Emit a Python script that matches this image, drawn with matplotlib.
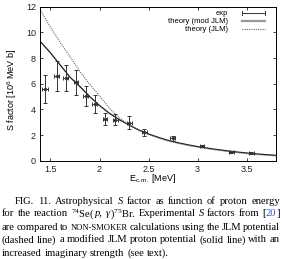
import numpy as np
import matplotlib
matplotlib.use('Agg')
import matplotlib.pyplot as plt

plt.rcParams['font.family'] = ['Liberation Sans', 'DejaVu Sans']
plt.rcParams['mathtext.fontset'] = 'custom'
plt.rcParams['mathtext.rm'] = 'Liberation Serif'
plt.rcParams['mathtext.it'] = 'Liberation Serif:italic'

# experimental points
e_exp = [1.444, 1.563, 1.655, 1.760, 1.860, 1.951, 2.056, 2.161, 2.304, 2.457, 2.747, 3.045, 3.342, 3.546]
e_err = [0.03, 0.025, 0.025, 0.025, 0.025, 0.025, 0.025, 0.025, 0.025, 0.025, 0.025, 0.025, 0.025, 0.025]
s_exp = [5.6, 6.6, 6.45, 6.1, 5.05, 4.45, 3.25, 3.2, 2.95, 2.2, 1.75, 1.15, 0.65, 0.6]
s_err = [1.1, 1.2, 1.0, 1.0, 0.8, 0.7, 0.45, 0.45, 0.5, 0.25, 0.18, 0.1, 0.05, 0.05]

# theory curves
e_th = [1.4, 1.5, 1.6, 1.7, 1.8, 1.9, 2.0, 2.1, 2.2, 2.3, 2.4, 2.5, 2.6,
        2.7, 2.8, 2.9, 3.0, 3.1, 3.2, 3.3, 3.4, 3.5, 3.6, 3.7, 3.8]
s_mod = [9.25, 8.4, 7.45, 6.5, 5.78, 5.0, 4.3, 3.7, 3.2, 2.78, 2.4, 2.08, 1.82,
         1.58, 1.4, 1.24, 1.1, 0.98, 0.87, 0.77, 0.68, 0.6, 0.53, 0.47, 0.42]
s_jlm = [11.7, 10.4, 9.2, 8.1, 6.95, 5.95, 5.05, 4.1, 3.35, 2.8, 2.38, 2.04, 1.77,
         1.53, 1.35, 1.19, 1.05, 0.93, 0.82, 0.72, 0.63, 0.55, 0.48, 0.42, 0.37]

xticks = [1.5, 2, 2.5, 3, 3.5]
xtick_labels = ['1.5', '2', '2.5', '3', '3.5']
yticks = [0, 2, 4, 6, 8, 10, 12]

W, H = 282, 259
fig = plt.figure(figsize=(W / 100, H / 100), dpi=100)
ax = fig.add_axes([40 / W, 1 - 160.7 / H, 236 / W, 154 / H])

ax.plot(e_th, s_mod, color='#1a1a1a', lw=0.9)
ax.plot(e_th, s_jlm, color='#666666', lw=0.8, ls=(0, (1, 1)))
ax.errorbar(e_exp, s_exp, yerr=s_err, xerr=e_err, fmt='s', ms=1.2, color='#333333',
            ecolor='#333333', elinewidth=0.7, capsize=1.6, capthick=0.7)

ax.set_xlim(1.393, 3.8)
ax.set_ylim(0, 12)
ax.set_xticks(xticks)
ax.set_xticklabels(xtick_labels)
ax.set_yticks(yticks)
ax.tick_params(direction='in', length=2.5, width=0.6, top=True, right=True,
               labelsize=6.5, colors='#222222', pad=3)
for sp in ax.spines.values():
    sp.set_linewidth(0.7)

ax.set_xlabel(r'E$_{\mathregular{c.m.}}$ [MeV]', fontsize=6.5, va='center')
ax.xaxis.set_label_coords(0.479, -0.118)
ax.set_ylabel(r'S factor [10$^{\mathregular{6}}$ MeV b]', fontsize=6.5, va='center')
ax.yaxis.set_label_coords(-0.12, 0.46)

# legend drawn by hand, gnuplot style
leg_y = [0.957, 0.907, 0.853]
leg_lab = ['exp', 'theory (mod JLM)', 'theory (JLM)']
for yy, lab in zip(leg_y, leg_lab):
    ax.text(0.795, yy, lab, transform=ax.transAxes, ha='right', va='center', fontsize=5.5)
ax.plot([0.855, 0.953], [leg_y[0]] * 2, transform=ax.transAxes, color='#333333', lw=0.7)
ax.plot([0.855, 0.855], [leg_y[0] - 0.012, leg_y[0] + 0.012], transform=ax.transAxes, color='#333333', lw=0.7)
ax.plot([0.953, 0.953], [leg_y[0] - 0.012, leg_y[0] + 0.012], transform=ax.transAxes, color='#333333', lw=0.7)
ax.plot([0.855, 0.953], [leg_y[1]] * 2, transform=ax.transAxes, color='#999999', lw=1.6)
ax.plot([0.855, 0.953], [leg_y[2]] * 2, transform=ax.transAxes, color='#666666', lw=0.8, ls=(0, (1, 1)))

# caption, justified by hand
base = dict(family='Liberation Serif', fontsize=7.6, color='black')
R = {}
I = {'style': 'italic'}
SC = {'fontsize': 6.1}
BL = {'color': '#3355cc'}


def words(s):
    return [[(w, R)] for w in s.split()]


cap_lines = [
    (words('FIG. 11. Astrophysical') + [[('S', I)]] + words('factor as function of proton energy'), 15, True),
    (words('for the reaction') + [[('$^{74}$Se(', R), ('p,', I)], [('γ', I), (')$^{75}$Br.', R)]]
     + words('Experimental') + [[('S', I)]] + words('factors from') + [[('[', R), ('20', BL), (']', R)]], 2, True),
    (words('are compared to') + [[('NON-SMOKER', SC)]] + words('calculations using the JLM potential'), 2, True),
    (words('(dashed line) a modified JLM proton potential (solid line) with an'), 2, True),
    (words('increased imaginary strength (see text).'), 2, False),
]
cap_y = [203.5, 216.5, 229.5, 242.5, 255.5]

renderer = fig.canvas.get_renderer()


def piece_width(s, kw):
    t = fig.text(0, 0, s, **{**base, **kw})
    w = t.get_window_extent(renderer).width
    t.remove()
    return w


for (line, x0, just), y in zip(cap_lines, cap_y):
    widths = [sum(piece_width(s, kw) for s, kw in wd) for wd in line]
    if just:
        gap = (280 - x0 - sum(widths)) / (len(line) - 1)
    else:
        gap = piece_width('a a', R) - piece_width('aa', R)
    x = x0
    for wd, w in zip(line, widths):
        for s, kw in wd:
            fig.text(x / W, 1 - y / H, s, va='baseline', ha='left', **{**base, **kw})
            x += piece_width(s, kw)
        x += gap

fig.savefig('out.png', dpi=100)
